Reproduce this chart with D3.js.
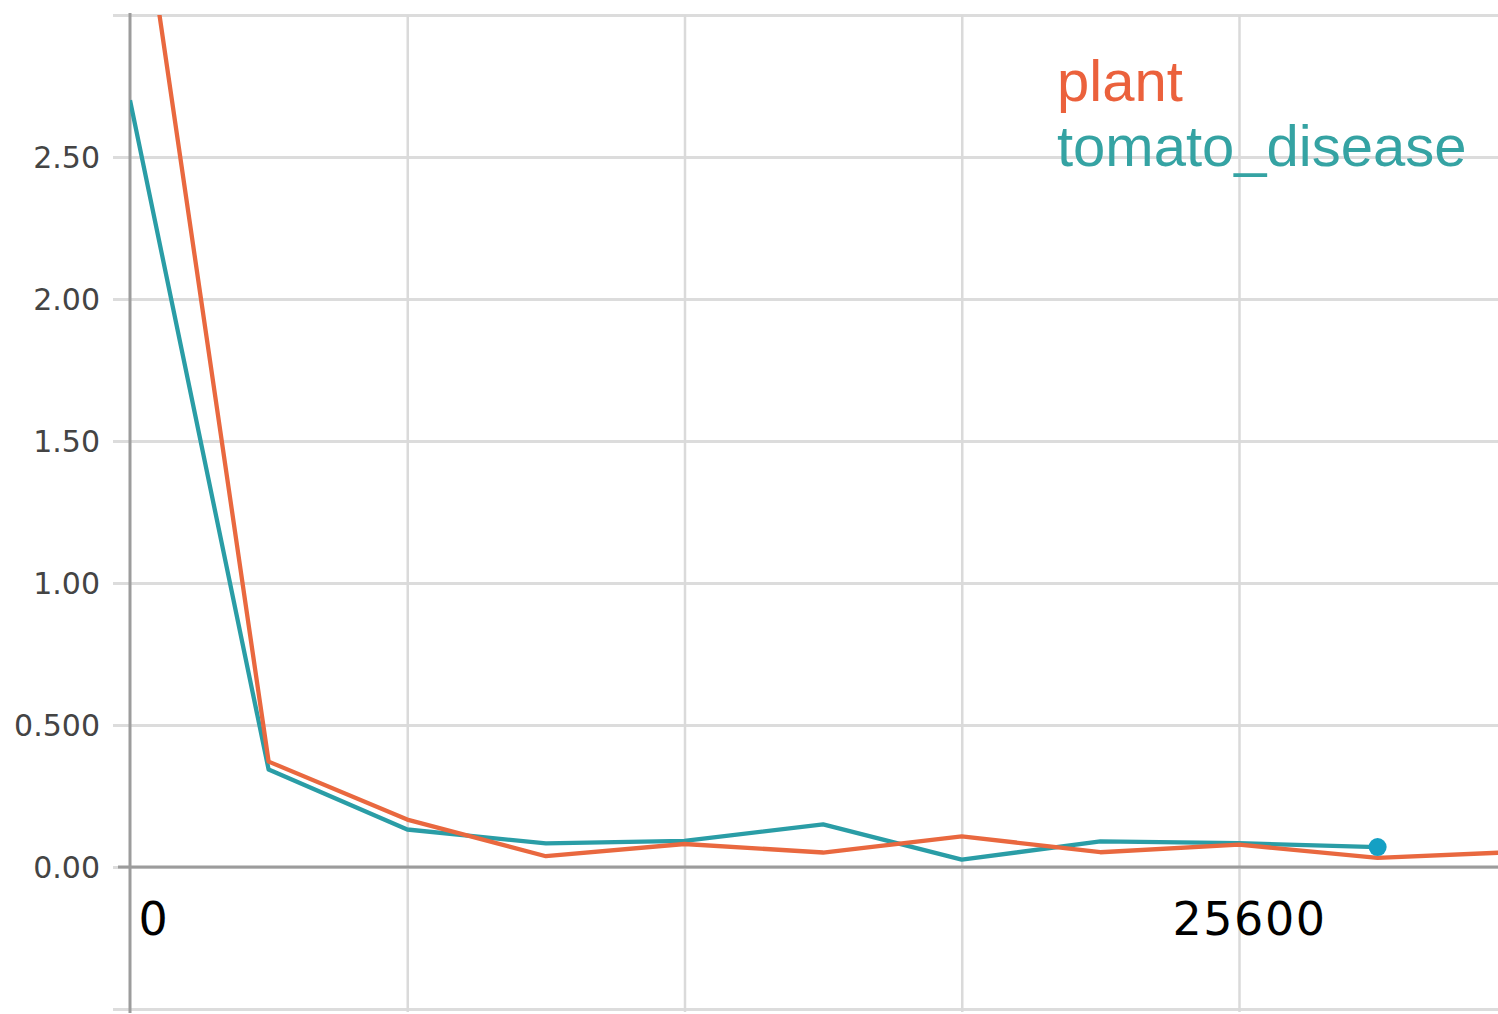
<!DOCTYPE html>
<html><head><meta charset="utf-8">
<script src="https://cdn.jsdelivr.net/npm/d3@7"></script>
<style>html,body{margin:0;padding:0;background:#fff;overflow:hidden}</style>
</head><body><svg id="chart" width="1498" height="1014"></svg>
<script>
const steps = [0,3200,6400,9600,12800,16000,19200,22400,25600,28800,32000];
const plantLoss = [3.71,0.371,0.167,0.038,0.081,0.051,0.108,0.052,0.079,0.032,0.053];
const tomatoSteps = [0,3200,6400,9600,12800,16000,19200,22400,25600,28800];
const tomatoLoss = [2.70,0.343,0.132,0.083,0.092,0.150,0.026,0.090,0.084,0.070];
const yTicks = [-0.5,0,0.5,1,1.5,2,2.5,3];
const yLabelTicks = [0,0.5,1,1.5,2,2.5];
const yTickLabels = ["0.00","0.500","1.00","1.50","2.00","2.50"];
const xGrid = [0,6400,12800,19200,25600,32000];
const xLabelTicks = [0,25600];
const xTickLabels = ["0","25600"];
const seriesNames = ["plant","tomato_disease"];
const seriesColors = ["#e9683f","#2a9da6"];
const legendColors = ["#eb613c","#35a3a3"];

const W = 1498, H = 1014;
const L = 130, R = 1498, T = 15, B = 1009;
const svg = d3.select("#chart");
const x = d3.scaleLinear().domain([0,25600]).range([L,1239]);
const y = d3.scaleLinear().domain([-0.5,3]).range([B,T]);

// horizontal gridlines
const gy = svg.append("g").attr("transform",`translate(113,0)`)
  .call(d3.axisRight(y).tickValues(yTicks).tickSize(R-113).tickFormat(""));
gy.select(".domain").remove();
gy.selectAll(".tick line").attr("stroke","#dcdcdc").attr("stroke-width",3);

// vertical gridlines
const gx = svg.append("g").attr("transform",`translate(0,${T})`)
  .call(d3.axisBottom(x).tickValues(xGrid.filter(v=>v>0)).tickSize(B-T+3).tickFormat(""));
gx.select(".domain").remove();
gx.selectAll(".tick line").attr("stroke","#dadada").attr("stroke-width",2.5);

// zero line
svg.append("line").attr("x1",118).attr("x2",R).attr("y1",y(0)).attr("y2",y(0))
  .attr("stroke","#9c9c9c").attr("stroke-width",3);
// y axis line
svg.append("line").attr("x1",L).attr("x2",L).attr("y1",T-2).attr("y2",B+4)
  .attr("stroke","#9c9c9c").attr("stroke-width",3);

// y labels
const yl = svg.append("g").attr("transform",`translate(${L},0)`)
  .call(d3.axisLeft(y).tickValues(yLabelTicks).tickSize(0).tickPadding(30)
    .tickFormat((d,i)=>yTickLabels[i]));
yl.select(".domain").remove();
yl.selectAll("text").attr("font-family","DejaVu Sans").attr("font-size",30)
  .attr("fill","#444").attr("dy","0.36em");

// x labels
const xl = svg.append("g").attr("transform",`translate(0,0)`)
  .call(d3.axisBottom(x).tickValues(xLabelTicks).tickSize(0)
    .tickFormat((d,i)=>xTickLabels[i]));
xl.select(".domain").remove();
xl.selectAll("text").attr("font-family","DejaVu Sans").attr("font-size",46)
  .attr("fill","#000").attr("letter-spacing",1.5).attr("y",935).attr("dy",0)
  .attr("text-anchor",(d,i)=>i===0?"start":"middle")
  .attr("dx",(d,i)=>i===0?8:10);

// clip
svg.append("clipPath").attr("id","clip").append("rect")
  .attr("x",L).attr("y",T).attr("width",R-L).attr("height",B-T);
const plot = svg.append("g").attr("clip-path","url(#clip)");
const line = d3.line().x(d=>x(d[0])).y(d=>y(d[1]));

plot.append("path").datum(tomatoSteps.map((s,i)=>[s,tomatoLoss[i]]))
  .attr("d",line).attr("fill","none").attr("stroke",seriesColors[1])
  .attr("stroke-width",4.3).attr("stroke-linejoin","round");
plot.append("path").datum(steps.map((s,i)=>[s,plantLoss[i]]))
  .attr("d",line).attr("fill","none").attr("stroke",seriesColors[0])
  .attr("stroke-width",4.3).attr("stroke-linejoin","round");

const lastI = tomatoSteps.length-1;
svg.append("circle").attr("cx",x(tomatoSteps[lastI])).attr("cy",y(tomatoLoss[lastI]))
  .attr("r",9).attr("fill","#14a0c4");

// legend
svg.selectAll(".leg").data(seriesNames).enter().append("text")
  .attr("x",1057).attr("y",(d,i)=>101+i*65)
  .attr("font-family","Liberation Sans, Arial").attr("font-size",58)
  .attr("fill",(d,i)=>legendColors[i]).text(d=>d);
</script></body></html>
